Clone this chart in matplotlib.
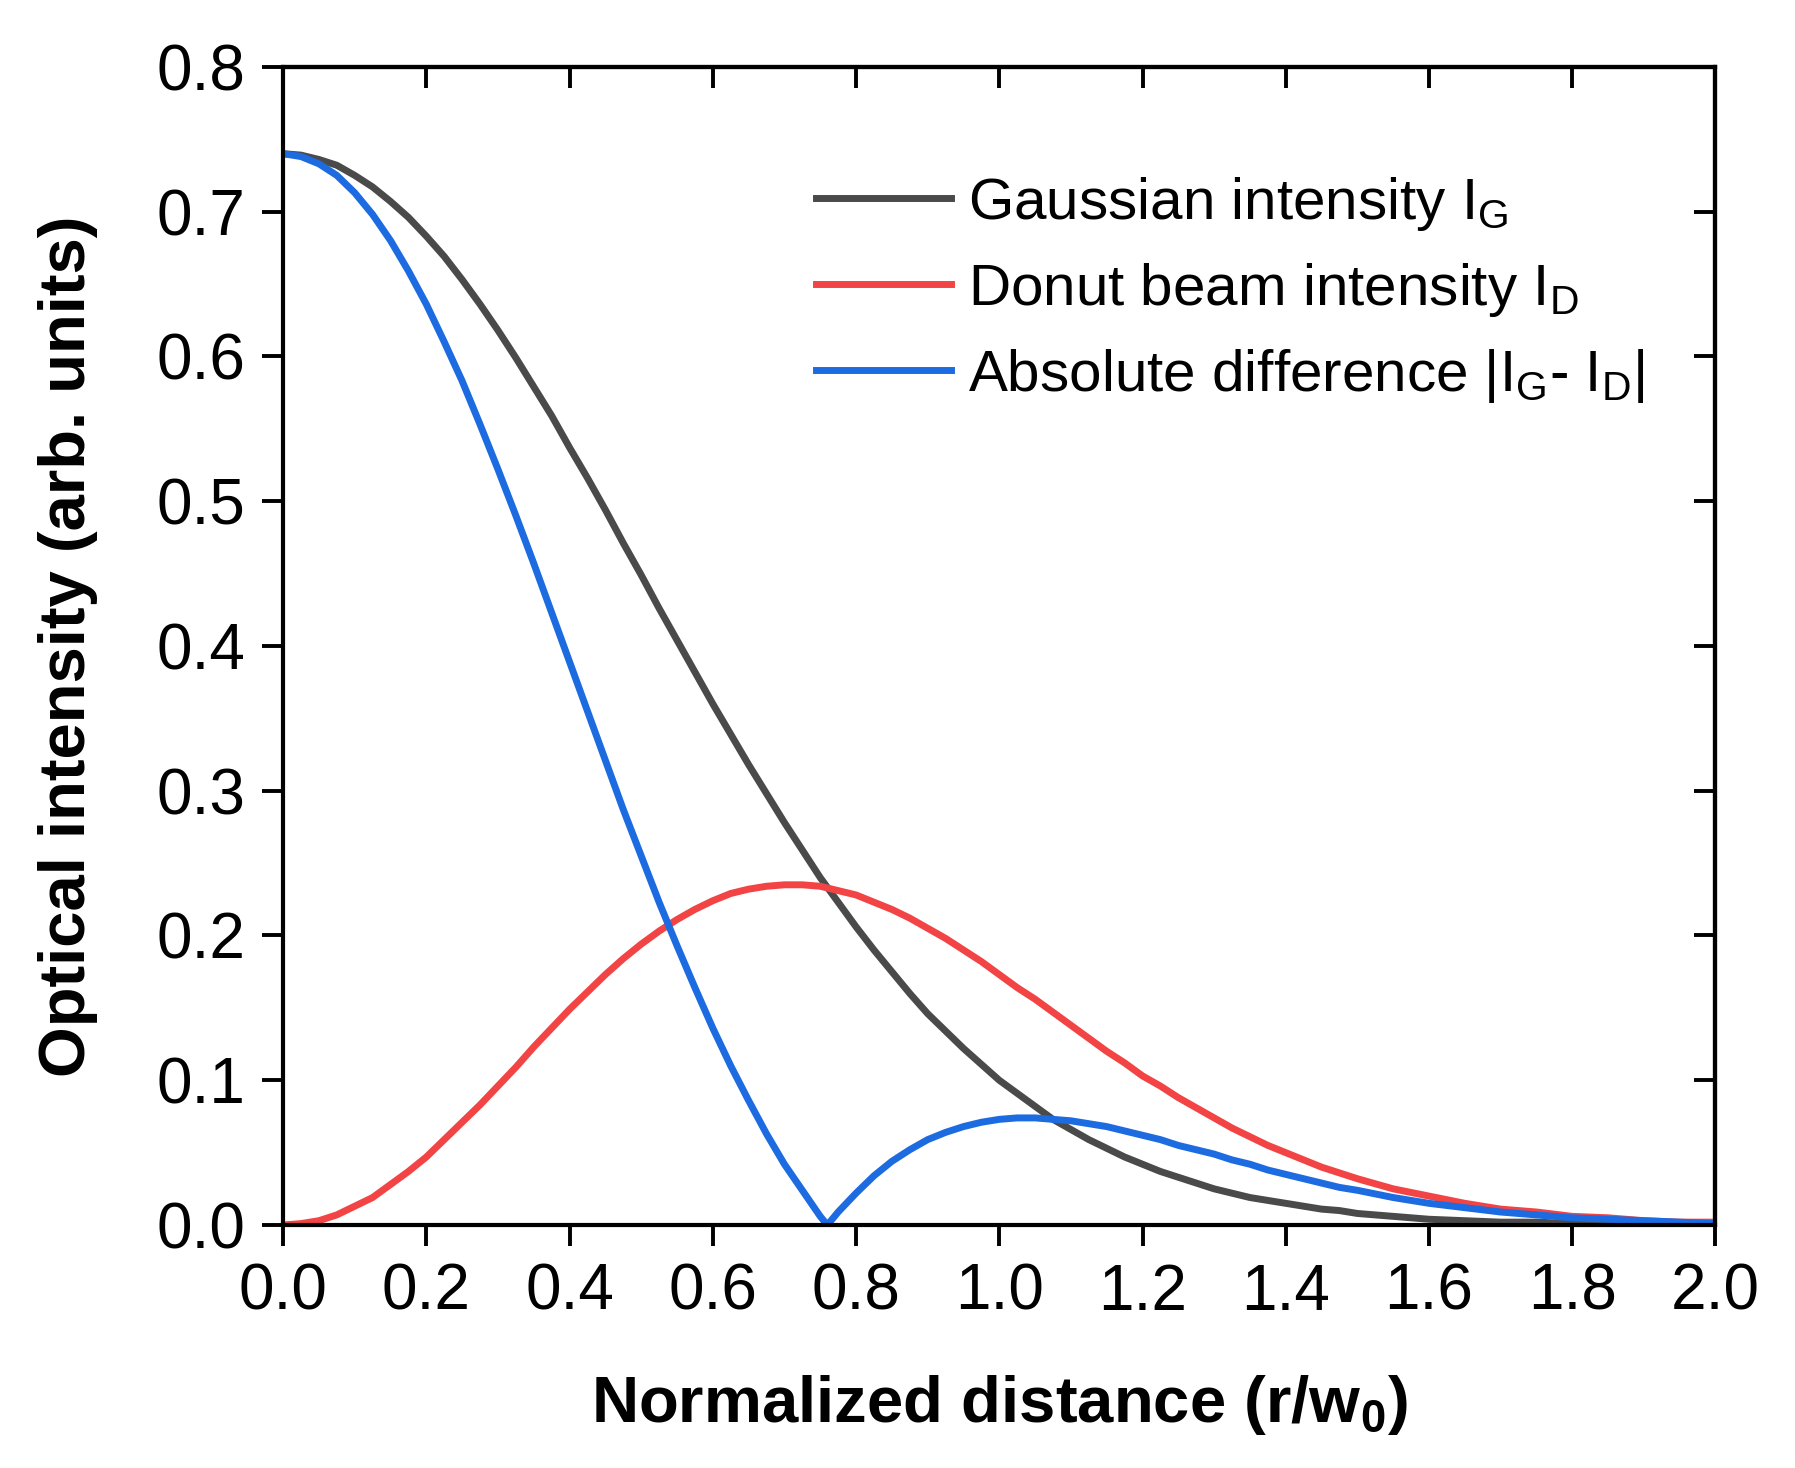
# Gaussian vs donut beam intensity profiles

import matplotlib.pyplot as plt

plt.rcParams["font.family"] = "Liberation Sans"
plt.rcParams["mathtext.fontset"] = "custom"
plt.rcParams["mathtext.rm"] = "Liberation Sans"
plt.rcParams["mathtext.it"] = "Liberation Sans"
plt.rcParams["mathtext.bf"] = "Liberation Sans:bold"

# values (r/w0)
r = [0.000, 0.025, 0.050, 0.075, 0.100, 0.125, 0.150, 0.175, 0.200, 0.225,
     0.250, 0.275, 0.300, 0.325, 0.350, 0.375, 0.400, 0.425, 0.450, 0.475,
     0.500, 0.525, 0.550, 0.575, 0.600, 0.625, 0.650, 0.675, 0.700, 0.725,
     0.750, 0.775, 0.800, 0.825, 0.850, 0.875, 0.900, 0.925, 0.950, 0.975,
     1.000, 1.025, 1.050, 1.075, 1.100, 1.125, 1.150, 1.175, 1.200, 1.225,
     1.250, 1.275, 1.300, 1.325, 1.350, 1.375, 1.400, 1.425, 1.450, 1.475,
     1.500, 1.550, 1.600, 1.650, 1.700, 1.750, 1.800, 1.850, 1.900, 1.950, 2.000]

gauss = [0.740, 0.739, 0.736, 0.732, 0.725, 0.717, 0.707, 0.696, 0.683, 0.669,
         0.653, 0.636, 0.618, 0.599, 0.579, 0.559, 0.537, 0.516, 0.494, 0.471,
         0.449, 0.426, 0.404, 0.382, 0.360, 0.339, 0.318, 0.298, 0.278, 0.259,
         0.240, 0.223, 0.206, 0.190, 0.175, 0.160, 0.146, 0.134, 0.122, 0.111,
         0.100, 0.091, 0.082, 0.073, 0.066, 0.059, 0.053, 0.047, 0.042, 0.037,
         0.033, 0.029, 0.025, 0.022, 0.019, 0.017, 0.015, 0.013, 0.011, 0.010,
         0.008, 0.006, 0.004, 0.003, 0.002, 0.002, 0.001, 0.001, 0.001, 0.000, 0.000]

donut = [0.000, 0.001, 0.003, 0.007, 0.013, 0.019, 0.028, 0.037, 0.047, 0.059,
         0.071, 0.083, 0.096, 0.109, 0.123, 0.136, 0.149, 0.161, 0.173, 0.184,
         0.194, 0.203, 0.211, 0.218, 0.224, 0.229, 0.232, 0.234, 0.235, 0.235,
         0.234, 0.231, 0.228, 0.223, 0.218, 0.212, 0.205, 0.198, 0.190, 0.182,
         0.173, 0.164, 0.156, 0.147, 0.138, 0.129, 0.120, 0.112, 0.103, 0.096,
         0.088, 0.081, 0.074, 0.067, 0.061, 0.055, 0.050, 0.045, 0.040, 0.036,
         0.032, 0.025, 0.020, 0.015, 0.011, 0.009, 0.006, 0.005, 0.003, 0.002, 0.002]

# absolute difference, sampled at the same points plus its zero at 0.76
r_diff = r[:31] + [0.760] + r[31:]
diff = [0.740, 0.738, 0.733, 0.725, 0.713, 0.698, 0.680, 0.659, 0.636, 0.610,
        0.583, 0.553, 0.522, 0.490, 0.457, 0.423, 0.389, 0.355, 0.321, 0.287,
        0.255, 0.223, 0.193, 0.164, 0.136, 0.110, 0.086, 0.063, 0.042, 0.024,
        0.006, 0.000, 0.009, 0.022, 0.034, 0.044, 0.052, 0.059, 0.064, 0.068, 0.071,
        0.073, 0.074, 0.074, 0.073, 0.072, 0.070, 0.068, 0.065, 0.062, 0.059,
        0.055, 0.052, 0.049, 0.045, 0.042, 0.038, 0.035, 0.032, 0.029, 0.026,
        0.024, 0.019, 0.015, 0.012, 0.009, 0.007, 0.005, 0.004, 0.003, 0.002, 0.001]

x_ticks = [0.0, 0.2, 0.4, 0.6, 0.8, 1.0, 1.2, 1.4, 1.6, 1.8, 2.0]
y_ticks = [0.0, 0.1, 0.2, 0.3, 0.4, 0.5, 0.6, 0.7, 0.8]

fig = plt.figure(figsize=(17.95, 14.68), dpi=100)
ax = fig.add_axes([0.1577, 0.1655, 0.798, 0.789])

lw = 5.0
ax.plot(r, gauss, color="#4a4a4a", lw=lw, label=r"Gaussian intensity I$_\mathregular{G}$")
ax.plot(r, donut, color="#f24444", lw=lw, label=r"Donut beam intensity I$_\mathregular{D}$")
ax.plot(r_diff, diff, color="#1c6be0", lw=lw,
        label=r"Absolute difference |I$_\mathregular{G}$- I$_\mathregular{D}$|")

ax.set_xlim(0, 2.0)
ax.set_ylim(0, 0.8)
ax.set_xticks(x_ticks)
ax.set_yticks(y_ticks)
ax.set_xticklabels([f"{v:.1f}" for v in x_ticks])
ax.set_yticklabels([f"{v:.1f}" for v in y_ticks])
ax.tick_params(axis="both", direction="out", length=15, width=2.8, labelsize=46, pad=12)

for s in ax.spines.values():
    s.set_linewidth(3.0)

# inward ticks on top and right
top = ax.secondary_xaxis("top")
top.set_xticks(x_ticks)
top.tick_params(direction="in", length=15, width=2.8, labeltop=False)
right = ax.secondary_yaxis("right")
right.set_yticks(y_ticks)
right.tick_params(direction="in", length=15, width=2.8, labelright=False)
for sec in (top, right):
    for s in sec.spines.values():
        s.set_linewidth(3.0)

ax.set_xlabel(r"Normalized distance (r/w$_\mathbf{0}$)", fontsize=47, fontweight="bold", labelpad=36)
ax.set_ylabel("Optical intensity (arb. units)", fontsize=47, fontweight="bold", labelpad=42)

ax.legend(loc="upper left", bbox_to_anchor=(0.356, 0.927), frameon=False, fontsize=42,
          handlelength=2.3, handletextpad=0.3, labelspacing=0.48, borderaxespad=0)

fig.savefig("out.png", dpi=100)
